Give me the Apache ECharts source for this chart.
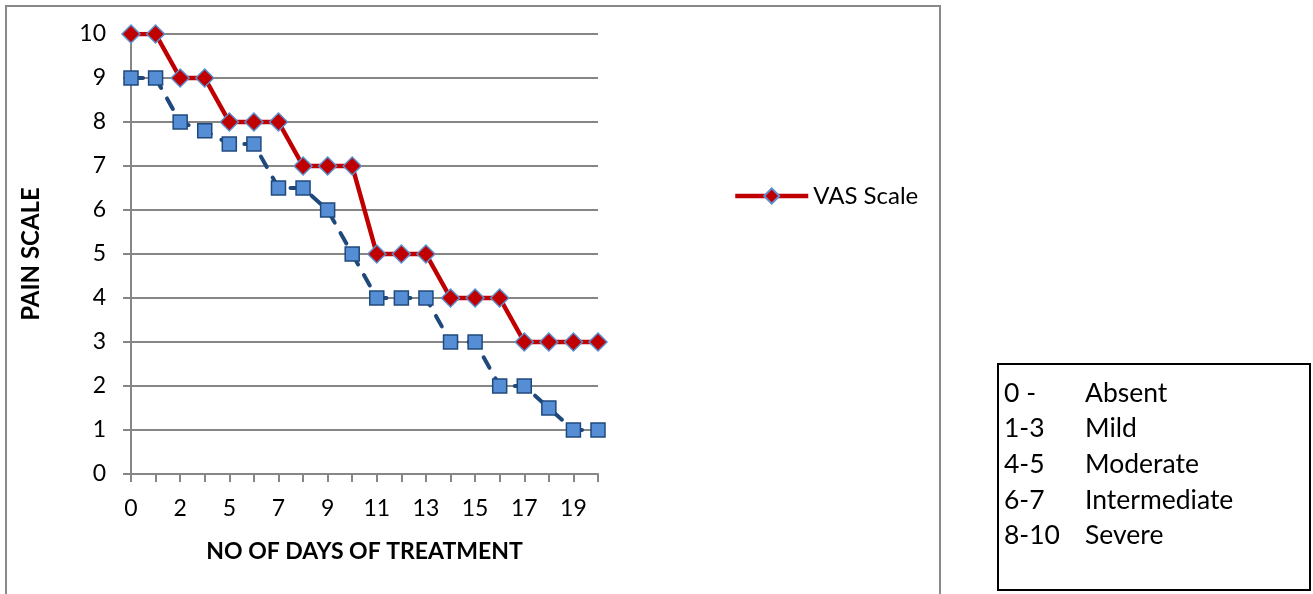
<!DOCTYPE html>
<html>
<head>
<meta charset="utf-8">
<script src="https://cdn.jsdelivr.net/npm/echarts@6/dist/echarts.min.js"></script>
<style>
  html, body { margin: 0; padding: 0; background: #fff; }
  #chart { width: 1313px; height: 594px; }
</style>
</head>
<body>
<div id="chart"></div>
<script>
// data
const days = ['0', '1', '2', '4', '5', '6', '7', '8', '9', '10', '11', '12', '13', '14', '15', '16', '17', '18', '19', '20']
const vasScale = [10, 10, 9, 9, 8, 8, 8, 7, 7, 7, 5, 5, 5, 4, 4, 4, 3, 3, 3, 3]
const otherScale = [9, 9, 8, 7.8, 7.5, 7.5, 6.5, 6.5, 6, 5, 4, 4, 4, 3, 3, 2, 2, 1.5, 1, 1]
const keyRanges = ['0 -', '1-3', '4-5', '6-7', '8-10']
const keyNames = ['Absent', 'Mild', 'Moderate', 'Intermediate', 'Severe']

const font = 'Lato, "Open Sans", sans-serif'

let myChart = echarts.init(document.getElementById('chart'))

// key box on the right
let keyTexts = keyRanges.map((r, i) => ({
  type: 'text',
  x: 1004,
  y: 393 + i * 35.7,
  style: { text: r, font: '26.5px ' + font, fill: '#000', verticalAlign: 'middle' }
}))
let keyNameTexts = keyNames.map((n, i) => ({
  type: 'text',
  x: 1085,
  y: 393 + i * 35.7,
  style: { text: n, font: '26.5px ' + font, fill: '#000', verticalAlign: 'middle' }
}))

let option = {
  animation: false,
  textStyle: { fontFamily: font },
  grid: { left: 131, right: 715, top: 34, bottom: 120 },
  legend: {
    data: ['VAS Scale'],
    left: 728,
    top: 179,
    itemWidth: 73,
    itemHeight: 19,
    itemGap: 4,
    lineStyle: { width: 4.5 },
    textStyle: { fontSize: 24, color: '#000', fontFamily: font }
  },
  xAxis: {
    type: 'category',
    data: days,
    boundaryGap: false,
    name: 'NO OF DAYS OF TREATMENT',
    nameLocation: 'middle',
    nameGap: 66,
    nameTextStyle: { fontSize: 23, fontWeight: 'bold', color: '#000', fontFamily: font },
    axisLine: { lineStyle: { color: '#868686', width: 2 } },
    axisTick: { alignWithLabel: true, interval: 0, length: 8, lineStyle: { color: '#868686', width: 2 } },
    axisLabel: { interval: 1, fontSize: 23, color: '#000', margin: 23 }
  },
  yAxis: {
    type: 'value',
    min: 0,
    max: 10,
    interval: 1,
    name: 'PAIN SCALE',
    nameLocation: 'middle',
    nameGap: 88,
    nameTextStyle: { fontSize: 24, fontWeight: 'bold', color: '#000', fontFamily: font },
    axisLine: { show: true, lineStyle: { color: '#868686', width: 2 } },
    axisTick: { show: true, length: 8, lineStyle: { color: '#868686', width: 2 } },
    axisLabel: { fontSize: 23, color: '#000', margin: 25 },
    splitLine: { lineStyle: { color: '#868686', width: 2 } }
  },
  series: [
    {
      name: 'Other Scale',
      type: 'line',
      data: otherScale,
      showAllSymbol: true,
      symbol: 'rect',
      symbolSize: 14,
      lineStyle: { color: '#1F497D', width: 4, type: [12, 12], cap: 'round' },
      itemStyle: { color: '#558ED5', borderColor: '#1F497D', borderWidth: 1.5 },
      z: 2
    },
    {
      name: 'VAS Scale',
      type: 'line',
      data: vasScale,
      showAllSymbol: true,
      symbol: 'diamond',
      symbolSize: 18,
      lineStyle: { color: '#C00000', width: 4.5 },
      itemStyle: { color: '#C00000', borderColor: '#5B8FD0', borderWidth: 1.5 },
      z: 3
    }
  ],
  graphic: [
    {
      type: 'rect',
      shape: { x: 6, y: 6, width: 934, height: 600 },
      style: { fill: 'none', stroke: '#898989', lineWidth: 2 },
      silent: true
    },
    {
      type: 'rect',
      shape: { x: 998, y: 364, width: 312, height: 226 },
      style: { fill: 'none', stroke: '#000', lineWidth: 2 },
      silent: true
    },
    ...keyTexts,
    ...keyNameTexts
  ]
}

myChart.setOption(option)
</script>
</body>
</html>
